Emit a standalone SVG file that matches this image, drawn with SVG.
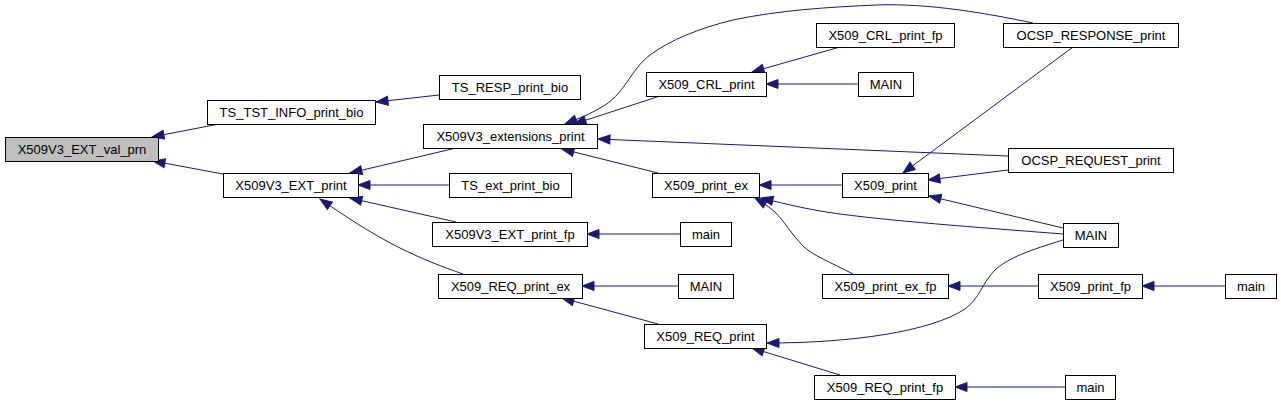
<svg xmlns="http://www.w3.org/2000/svg" width="1281" height="406" viewBox="0 0 1281 406">
<style>
.n rect{fill:#fff;stroke:#000;stroke-width:1}
.n.root rect{fill:#bfbfbf}
.n text{font-family:"Liberation Sans",Arial,Helvetica,sans-serif;font-size:13px;fill:#000;text-anchor:middle}
.e path{fill:none;stroke:#191970;stroke-width:1;marker-end:url(#ah)}
</style>
<defs>
<marker id="ah" markerUnits="userSpaceOnUse" markerWidth="14" markerHeight="12" viewBox="-1 -6 14 12" refX="12" refY="0" orient="auto">
<path d="M0,-4.5 L12,0 L0,4.5 z" fill="#191970" stroke="#191970" stroke-width="1"/>
</marker>
</defs>
<rect width="1281" height="406" fill="#fff"/>
<g id="edges" class="e">
<path d="M224,123 L152,137"/>
<path d="M223,174 L153,161"/>
<path d="M439,95 L376,102"/>
<path d="M456,148 L350,173"/>
<path d="M449,185 L358,185"/>
<path d="M456,222 L350,198"/>
<path d="M463,274 C440,266 420,258 400,248 C370,233 345,216 320,199"/>
<path d="M660,96 L574,124"/>
<path d="M1033,23 C990,14 930,3 877,5 C830,7 780,10 733,20 C700,28 670,40 650,55 C630,70 625,95 600,108 C590,114 580,118 565,124"/>
<path d="M1008,156 L598,139"/>
<path d="M658,173 L562,149"/>
<path d="M840,47 L752,72"/>
<path d="M858,84 L766,84"/>
<path d="M842,185 L759,185"/>
<path d="M1063,234 C1000,229 900,222 840,214 C810,210 790,205 761,198"/>
<path d="M853,274 C830,262 812,255 803,246 C792,235 785,222 775,212 C768,206 762,202 755,198"/>
<path d="M1073,47 L903,173"/>
<path d="M1008,170 L928,180"/>
<path d="M1063,228 L929,196"/>
<path d="M1063,240 C1030,250 1008,258 995,270 C982,283 980,298 965,309 C930,332 850,343 767,343"/>
<path d="M1038,286 L948,286"/>
<path d="M1225,286 L1142,286"/>
<path d="M680,234 L587,234"/>
<path d="M678,286 L582,286"/>
<path d="M658,324 L562,298"/>
<path d="M840,375 L752,348"/>
<path d="M1065,387 L955,387"/>
</g>
<g id="n0" class="n root"><rect x="5.5" y="137.5" width="153" height="24"/><text x="82" y="154">X509V3_EXT_val_prn</text></g>
<g id="n1" class="n"><rect x="207.5" y="100.5" width="168" height="24"/><text x="291.5" y="117">TS_TST_INFO_print_bio</text></g>
<g id="n2" class="n"><rect x="223.5" y="173.5" width="135" height="24"/><text x="291" y="190">X509V3_EXT_print</text></g>
<g id="n3" class="n"><rect x="439.5" y="75.5" width="141" height="24"/><text x="510" y="92">TS_RESP_print_bio</text></g>
<g id="n4" class="n"><rect x="423.5" y="124.5" width="174" height="24"/><text x="510.5" y="141">X509V3_extensions_print</text></g>
<g id="n5" class="n"><rect x="449.5" y="173.5" width="122" height="24"/><text x="510.5" y="190">TS_ext_print_bio</text></g>
<g id="n6" class="n"><rect x="432.5" y="222.5" width="155" height="24"/><text x="510" y="239">X509V3_EXT_print_fp</text></g>
<g id="n7" class="n"><rect x="438.5" y="274.5" width="144" height="24"/><text x="510.5" y="291">X509_REQ_print_ex</text></g>
<g id="n8" class="n"><rect x="646.5" y="72.5" width="120" height="24"/><text x="706.5" y="89">X509_CRL_print</text></g>
<g id="n9" class="n"><rect x="652.5" y="173.5" width="107" height="24"/><text x="706" y="190">X509_print_ex</text></g>
<g id="n10" class="n"><rect x="680.5" y="222.5" width="51" height="24"/><text x="706" y="239">main</text></g>
<g id="n11" class="n"><rect x="678.5" y="274.5" width="55" height="24"/><text x="706" y="291">MAIN</text></g>
<g id="n12" class="n"><rect x="644.5" y="324.5" width="122" height="24"/><text x="705.5" y="341">X509_REQ_print</text></g>
<g id="n13" class="n"><rect x="816.5" y="23.5" width="138" height="24"/><text x="885.5" y="40">X509_CRL_print_fp</text></g>
<g id="n14" class="n"><rect x="858.5" y="72.5" width="55" height="24"/><text x="886" y="89">MAIN</text></g>
<g id="n15" class="n"><rect x="842.5" y="173.5" width="86" height="24"/><text x="885.5" y="190">X509_print</text></g>
<g id="n16" class="n"><rect x="822.5" y="274.5" width="126" height="24"/><text x="885.5" y="291">X509_print_ex_fp</text></g>
<g id="n17" class="n"><rect x="814.5" y="375.5" width="141" height="24"/><text x="885" y="392">X509_REQ_print_fp</text></g>
<g id="n18" class="n"><rect x="1003.5" y="23.5" width="175" height="24"/><text x="1091" y="40">OCSP_RESPONSE_print</text></g>
<g id="n19" class="n"><rect x="1008.5" y="148.5" width="165" height="24"/><text x="1091" y="165">OCSP_REQUEST_print</text></g>
<g id="n20" class="n"><rect x="1063.5" y="223.5" width="55" height="24"/><text x="1091" y="240">MAIN</text></g>
<g id="n21" class="n"><rect x="1038.5" y="274.5" width="104" height="24"/><text x="1090.5" y="291">X509_print_fp</text></g>
<g id="n22" class="n"><rect x="1225.5" y="274.5" width="51" height="24"/><text x="1251" y="291">main</text></g>
<g id="n23" class="n"><rect x="1065.5" y="375.5" width="50" height="24"/><text x="1090.5" y="392">main</text></g>
</svg>
